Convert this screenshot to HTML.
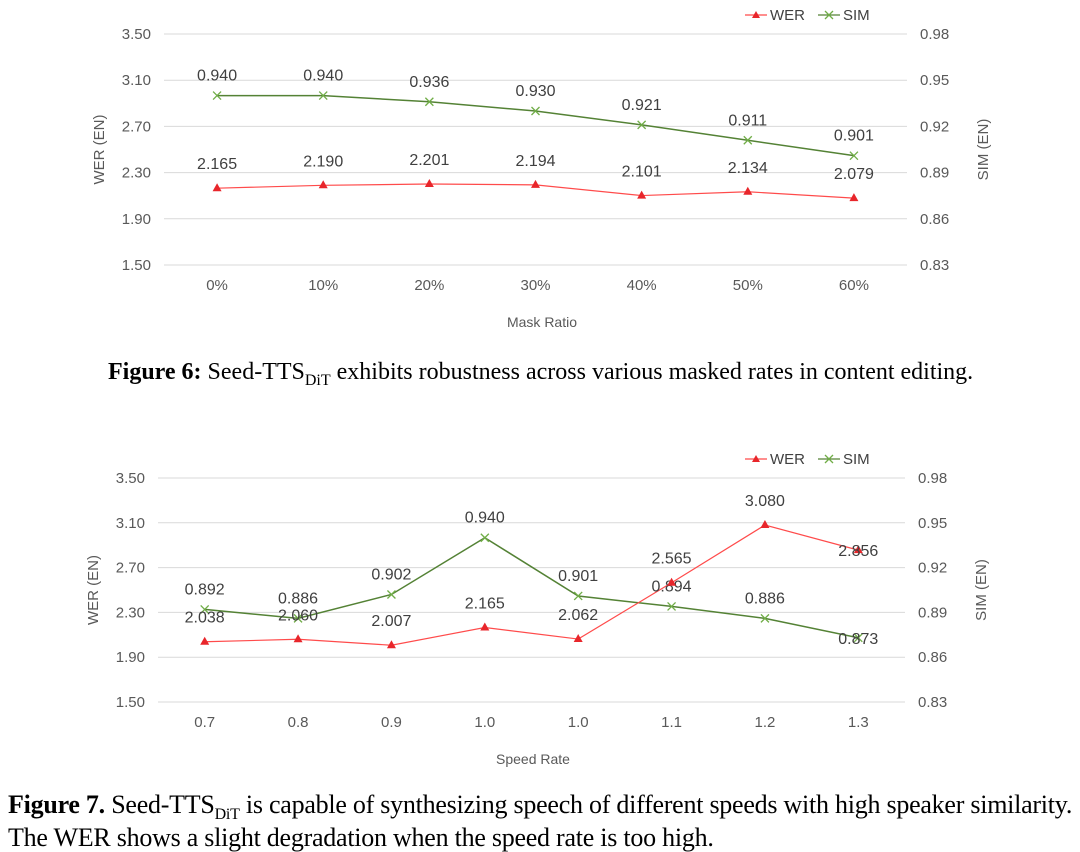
<!DOCTYPE html>
<html><head><meta charset="utf-8">
<style>
body{margin:0;background:#fff;width:1080px;height:852px;overflow:hidden;position:relative;font-family:"Liberation Sans",sans-serif}
svg{position:absolute;left:0;top:0}
.cap{position:absolute;font-family:"Liberation Serif",serif;color:#000;white-space:nowrap}
</style></head><body>
<svg id="chart" width="1080" height="852"></svg>
<div class="cap" style="left:108px;top:358px;font-size:24px;line-height:28px"><b>Figure 6:</b> Seed-TTS<sub style="font-size:16px">DiT</sub> exhibits robustness across various masked rates in content editing.</div>
<div class="cap" style="left:8px;top:793px;line-height:23px;font-size:26px;letter-spacing:-0.25px"><b>Figure 7.</b> Seed-TTS<sub style="font-size:16px">DiT</sub> is capable of synthesizing speech of different speeds with high speaker similarity.<br>The WER shows a slight degradation when the speed rate is too high.</div>
<script>
const cats1=["0%","10%","20%","30%","40%","50%","60%"];
const wer1=[2.165,2.190,2.201,2.194,2.101,2.134,2.079];
const sim1=[0.940,0.940,0.936,0.930,0.921,0.911,0.901];
const cats2=["0.7","0.8","0.9","1.0","1.0","1.1","1.2","1.3"];
const wer2=[2.038,2.060,2.007,2.165,2.062,2.565,3.080,2.856];
const sim2=[0.892,0.886,0.902,0.940,0.901,0.894,0.886,0.873];
const leftTicks=[1.50,1.90,2.30,2.70,3.10,3.50];
const rightTicks=[0.83,0.86,0.89,0.92,0.95,0.98];
const NS="http://www.w3.org/2000/svg";
const svg=document.getElementById('chart');
function mk(tag,attrs,parent){const e=document.createElementNS(NS,tag);for(const k in attrs)e.setAttribute(k,attrs[k]);(parent||svg).appendChild(e);return e;}
function txt(s,attrs,parent){const e=mk('text',Object.assign({'font-family':'Liberation Sans, sans-serif','font-size':15,fill:'#404040'},attrs),parent);e.textContent=s;return e;}
function drawChart(o){
  const g=mk('g',{});
  
  
  const yL=v=>o.top+(3.5-v)/(3.5-1.5)*(o.bottom-o.top);
  const yR=v=>o.top+(0.98-v)/(0.98-0.83)*(o.bottom-o.top);
  const n=o.cats.length,band=(o.right-o.left)/n;
  const x=i=>o.left+band*(i+0.5);
  leftTicks.forEach(t=>{
    const l=mk('line',{x1:o.left,x2:o.right,y1:yL(t),y2:yL(t),stroke:'#d9d9d9','stroke-width':1},g);
    
    const e=txt(t.toFixed(2),{x:o.left-13,y:yL(t)+5,'text-anchor':'end',fill:'#595959'},g);
    
  });
  rightTicks.forEach(t=>{
    const e=txt(t.toFixed(2),{x:o.right+13,y:yR(t)+5,fill:'#595959'},g);
    
  });
  o.cats.forEach((c,i)=>{
    const e=txt(c,{x:x(i),y:o.bottom+25,'text-anchor':'middle',fill:'#595959'},g);
    
  });
  const simPts=o.sim.map((v,i)=>x(i)+','+yR(v)).join(' ');
  const sp=mk('polyline',{points:simPts,fill:'none',stroke:'#548235','stroke-width':1.5},g);
  
  const werPts=o.wer.map((v,i)=>x(i)+','+yL(v)).join(' ');
  const wp=mk('polyline',{points:werPts,fill:'none',stroke:'#ff4b4b','stroke-width':1.2},g);
  
  o.sim.forEach((v,i)=>{
    const cx=x(i),cy=yR(v);
    const p=mk('path',{d:`M${cx-4},${cy-4}L${cx+4},${cy+4}M${cx-4},${cy+4}L${cx+4},${cy-4}`,stroke:'#70ad47','stroke-width':1.3},g);
    
    const last=(o.lastInline&&i===n-1);
    const t=txt(v.toFixed(3),{x:cx,y:last?cy+6:cy-15,'text-anchor':'middle','font-size':16},g);
    
  });
  o.wer.forEach((v,i)=>{
    const cx=x(i),cy=yL(v);
    const p=mk('path',{d:`M${cx},${cy-5}L${cx+4.5},${cy+3}L${cx-4.5},${cy+3}Z`,fill:'#e8262b'},g);
    
    const last=(o.lastInline&&i===n-1);
    const t=txt(v.toFixed(3),{x:cx,y:last?cy+6:cy-19,'text-anchor':'middle','font-size':16},g);
    
  });
  const cy=(o.top+o.bottom)/2;
  const lt=txt('WER (EN)',{x:0,y:0,transform:`translate(${o.left-60},${cy}) rotate(-90)`,'text-anchor':'middle',fill:'#595959'},g);
  
  const rt=txt('SIM (EN)',{x:0,y:0,transform:`translate(${o.right+81},${cy}) rotate(-90)`,'text-anchor':'middle',fill:'#595959'},g);
  
  const xt=txt(o.xTitle,{x:o.xTitleX,y:o.bottom+62,'text-anchor':'middle',fill:'#595959',"font-size":14},g);
  
  const lx=o.legendX,ly=o.top-19;
  const lg=mk('g',{},g);
  
  mk('line',{x1:lx,x2:lx+22,y1:ly,y2:ly,stroke:'#ff4b4b','stroke-width':1.2},lg);
  mk('path',{d:`M${lx+11},${ly-4}L${lx+15},${ly+3}L${lx+7},${ly+3}Z`,fill:'#e8262b'},lg);
  txt('WER',{x:lx+25,y:ly+5},lg);
  const sx=lx+73;
  mk('line',{x1:sx,x2:sx+22,y1:ly,y2:ly,stroke:'#548235','stroke-width':1.2},lg);
  mk('path',{d:`M${sx+7},${ly-4}L${sx+15},${ly+4}M${sx+7},${ly+4}L${sx+15},${ly-4}`,stroke:'#70ad47','stroke-width':1.3,fill:'none'},lg);
  txt('SIM',{x:sx+25,y:ly+5},lg);
}
drawChart({name:'mask-ratio-chart',cats:cats1,wer:wer1,sim:sim1,left:164,right:907,top:34,bottom:265,xTitle:'Mask Ratio',xTitleX:542,legendX:745,lastInline:false});
drawChart({name:'speed-rate-chart',cats:cats2,wer:wer2,sim:sim2,left:158,right:905,top:478,bottom:702,xTitle:'Speed Rate',xTitleX:533,legendX:745,lastInline:true});
</script>
</body></html>
